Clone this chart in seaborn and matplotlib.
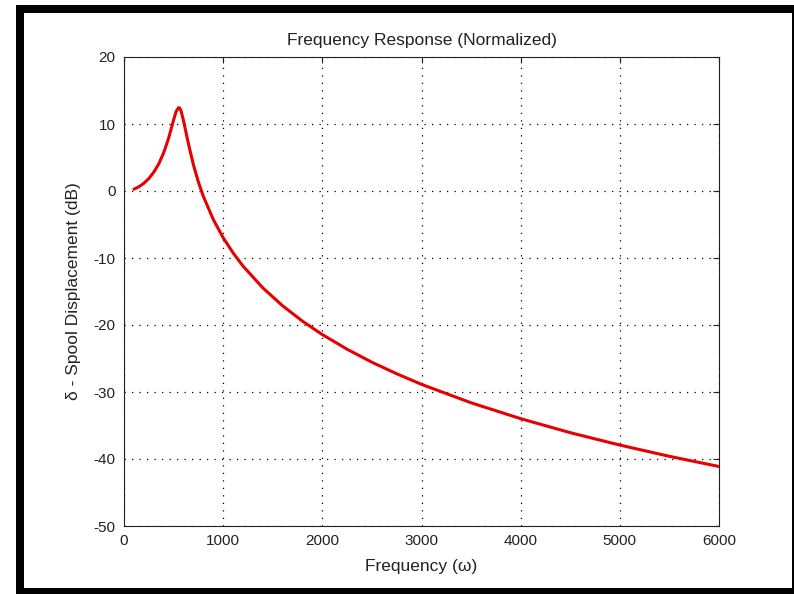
import matplotlib
matplotlib.use("Agg")
import matplotlib.pyplot as plt
import matplotlib.patches as mpatches
import seaborn as sns
import pandas as pd

# Data
omega = [100, 150, 200, 250, 300, 350, 400, 450, 500, 525, 550, 560, 575, 600,
         625, 650, 700, 750, 800, 900, 1000, 1100, 1200, 1400, 1600, 1800, 2000,
         2250, 2500, 2750, 3000, 3500, 4000, 4500, 5000, 5500, 6000]
gain_db = [0.27, 0.63, 1.15, 1.85, 2.80, 4.04, 5.70, 7.89, 10.6, 11.85, 12.45, 12.4,
           11.97, 10.5, 8.78, 7.03, 3.91, 1.35, -0.80, -4.24, -6.97, -9.24, -11.2,
           -14.46, -17.14, -19.43, -21.43, -23.62, -25.56, -27.28, -28.86, -31.61,
           -33.98, -36.07, -37.92, -39.60, -41.12]

x_ticks = [0, 1000, 2000, 3000, 4000, 5000, 6000]
y_ticks = [-50, -40, -30, -20, -10, 0, 10, 20]

title = "Frequency Response (Normalized)"
xlabel = "Frequency (\u03c9)"
ylabel = "\u03b4 - Spool Displacement (dB)"

df = pd.DataFrame({"omega": omega, "gain": gain_db})

sns.set_style("white")
plt.rcParams['font.family'] = ['Liberation Sans', 'DejaVu Sans']

fig = plt.figure(figsize=(7.94, 5.94), dpi=100)
fig.patch.set_facecolor("white")

W, H = 794.0, 594.0
# black frame of the screenshot
outer = mpatches.Rectangle((16 / W, 0), (W - 16) / W, (H - 5) / H,
                           transform=fig.transFigure, facecolor="black",
                           edgecolor="none", zorder=-10)
inner = mpatches.Rectangle((24 / W, 6 / H), (792 - 24) / W, (588 - 13) / H,
                           transform=fig.transFigure, facecolor="white",
                           edgecolor="none", zorder=-9)
fig.patches.extend([outer, inner])

ax = fig.add_axes([124 / W, 1 - 526 / H, (719 - 124) / W, (526 - 57) / H])
ax.set_facecolor("white")

sns.lineplot(data=df, x="omega", y="gain", ax=ax, color="#e60000",
             linewidth=2.2, sort=False, estimator=None)

ax.set_xlim(0, 6000)
ax.set_ylim(-50, 20)
ax.set_xticks(x_ticks)
ax.set_yticks(y_ticks)
ax.set_xticklabels([str(t) for t in x_ticks])
ax.set_yticklabels([str(t) for t in y_ticks])

ax.grid(True, color="black", linestyle=(0, (1, 5)), linewidth=0.9)
ax.set_axisbelow(True)

for s in ax.spines.values():
    s.set_visible(True)
    s.set_color("#222222")
    s.set_linewidth(0.8)

ax.tick_params(direction="in", length=4, width=0.8, top=True, right=True,
               labelsize=11, pad=6, colors="#222222", labelcolor="#222222")

ax.set_title(title, fontsize=12.5, color="#222222", pad=9)
ax.set_xlabel(xlabel, fontsize=12.5, color="#222222", labelpad=8)
ax.set_ylabel(ylabel, fontsize=12.5, color="#222222", labelpad=9)

fig.savefig("out.png", dpi=100, facecolor="white")
